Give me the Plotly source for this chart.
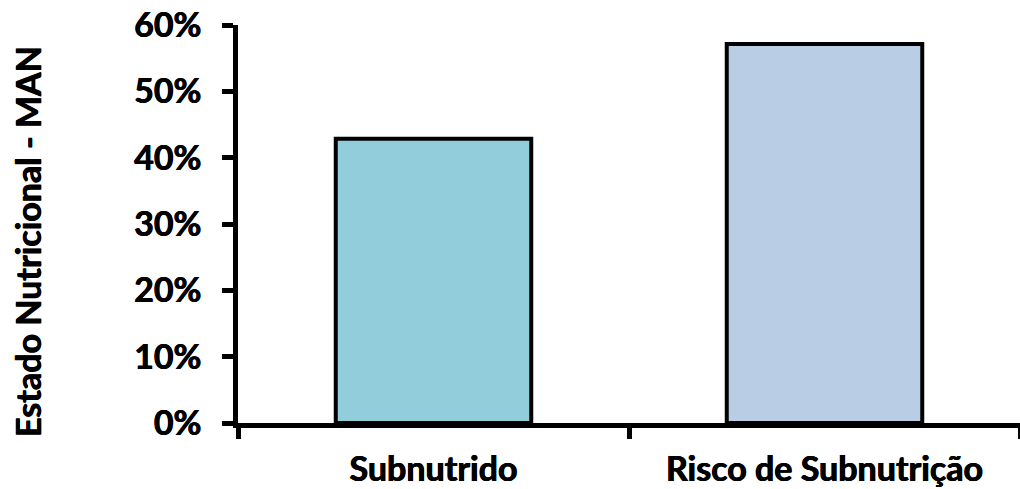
import plotly.graph_objects as go

categories = ["Subnutrido", "Risco de Subnutrição"]
values = [42.86, 57.14]
bar_colors = ["#92CDDC", "#B9CDE5"]
y_ticks = [0, 10, 20, 30, 40, 50, 60]
y_tick_labels = [f"{v}%" for v in y_ticks]
y_title = "Estado Nutricional - MAN"

W, H = 1020, 489
ml, mr, mt, mb = 238, 0, 25, 66
FONT = "Lato"
FS = 34
SHADOW = "0.45px 0 0 black, -0.45px 0 0 black"

def tf():
    return dict(family=FONT, size=FS, color="black", weight="bold", shadow=SHADOW)

fig = go.Figure()
fig.add_trace(go.Bar(
    x=categories, y=values,
    marker=dict(color=bar_colors, line=dict(color="black", width=4)),
    width=0.5,
))

fig.update_layout(
    width=W, height=H,
    margin=dict(l=ml, r=mr, t=mt, b=mb, pad=0),
    paper_bgcolor="white", plot_bgcolor="white",
    showlegend=False,
    font=dict(family=FONT, size=FS, color="black"),
    xaxis=dict(
        range=[-0.5, 1.5],
        showline=True, linecolor="black", linewidth=4.5,
        ticks="outside", ticklen=11, tickwidth=4.5, tickcolor="black",
        tickson="boundaries",
        showgrid=False, zeroline=False,
        tickfont=tf(),
        ticklabelstandoff=12,
    ),
    yaxis=dict(
        range=[0, 60],
        tickvals=y_ticks, ticktext=y_tick_labels,
        showline=True, linecolor="black", linewidth=4.5,
        ticks="outside", ticklen=11, tickwidth=4.5, tickcolor="black",
        showgrid=False, zeroline=False,
        tickfont=tf(),
        ticklabelstandoff=14,
    ),
)

fig.add_annotation(
    text=y_title, textangle=-90,
    xref="paper", yref="paper",
    x=(27 - ml) / (W - ml - mr), y=(H - mb - 242) / (H - mt - mb),
    xanchor="center", yanchor="middle", showarrow=False,
    font=tf(),
)

fig.write_html("out.html")
